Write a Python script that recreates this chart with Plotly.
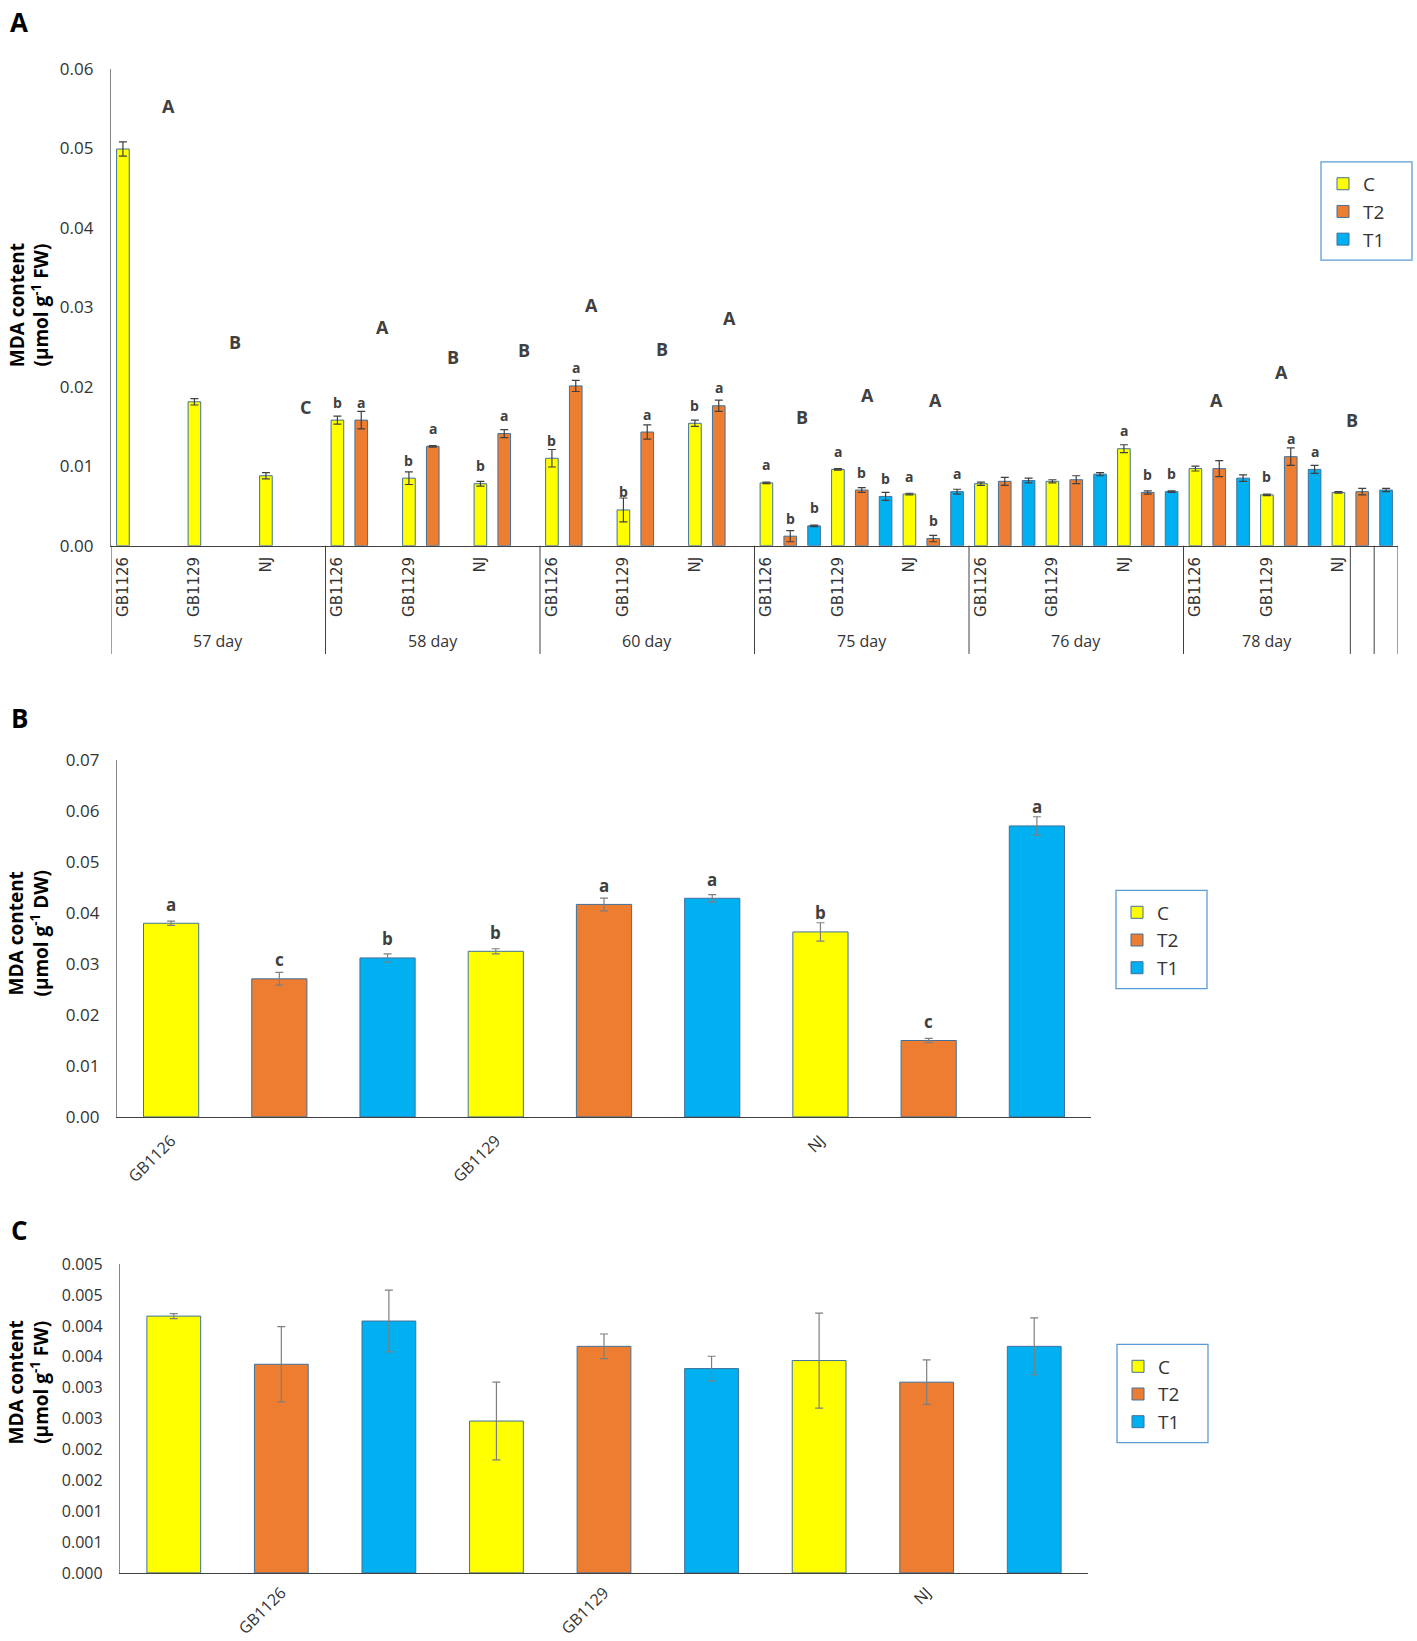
import plotly.graph_objects as go

W, H = 1417, 1641


def px(x):
    return x / W


def py(y):
    # vertical position in the photographed page, measured from the top
    return 1 - min(max(1.0164 * y - 12.64, 0), H) / H


treatments = ["C", "T2", "T1"]
colors = {"C": "#FFFF00", "T2": "#ED7D31", "T1": "#00B0F0"}
genotypes = ["GB1126", "GB1129", "NJ"]
days = ["57 day", "58 day", "60 day", "75 day", "76 day", "78 day"]

# ---- panel A : values per day, genotypes inside each day ----
a_c = [0.0499, 0.0181, 0.0088,
       0.0158, 0.0085, 0.0078,
       0.0110, 0.0045, 0.0154,
       0.0079, 0.0096, 0.0065,
       0.0078, 0.0081, 0.0122,
       0.0097, 0.0064, 0.0067]
a_c_err = [0.0009, 0.0004, 0.0004,
           0.0005, 0.0008, 0.0003,
           0.0011, 0.0015, 0.0004,
           0.0001, 0.0001, 0.0001,
           0.0002, 0.0002, 0.0005,
           0.0003, 0.0001, 0.0001]
a_c_let = ["", "", "", "b", "b", "b", "b", "b", "b",
           "a", "a", "a", "", "", "a", "", "b", ""]

a_t2 = [None, None, None,
        0.0158, 0.0125, 0.0141,
        0.0201, 0.0143, 0.0176,
        0.0012, 0.0070, 0.0009,
        0.0081, 0.0083, 0.0067,
        0.0097, 0.0112, 0.0068]
a_t2_err = [None, None, None,
            0.0011, 0.0001, 0.0005,
            0.0007, 0.0009, 0.0007,
            0.0007, 0.0003, 0.0004,
            0.0005, 0.0005, 0.0002,
            0.0010, 0.0011, 0.0004]
a_t2_let = ["", "", "", "a", "a", "a", "a", "a", "a",
            "b", "b", "b", "", "", "b", "", "a", ""]

a_t1 = [None, None, None, None, None, None, None, None, None,
        0.0025, 0.0062, 0.0068,
        0.0082, 0.0090, 0.0068,
        0.0085, 0.0096, 0.0070]
a_t1_err = [None, None, None, None, None, None, None, None, None,
            0.0001, 0.0005, 0.0003,
            0.0003, 0.0002, 0.0001,
            0.0004, 0.0005, 0.0002]
a_t1_let = ["", "", "", "", "", "", "", "", "",
            "b", "b", "a", "", "", "b", "", "a", ""]

# upper case letters of panel A (text, slot position, height)
a_grp_text = ["A", "B", "C", "A", "B", "B", "A", "B", "A",
              "B", "A", "A", "A", "A", "B"]
a_grp_x = [1.91, 4.72, 7.65, 10.9, 13.84, 16.83, 19.67, 22.63, 25.44,
           28.48, 31.24, 34.09, 45.88, 48.62, 51.58]
a_grp_y = [0.0553, 0.0256, 0.0174, 0.0275, 0.0237, 0.0246, 0.0303, 0.0248,
           0.0286, 0.0162, 0.0189, 0.0183, 0.0183, 0.0219, 0.0158]

# group boundaries on the slot axis of panel A
a_bounds = [-0.5, 8.5, 17.5, 26.5, 35.5, 44.5, 51.5, 52.5, 53.5]

# ---- panel B (DW) ----
b_c = [0.0380, 0.0325, 0.0363]
b_c_err = [0.0004, 0.0005, 0.0018]
b_c_let = ["a", "b", "b"]
b_t2 = [0.0271, 0.0417, 0.0150]
b_t2_err = [0.00125, 0.00125, 0.0004]
b_t2_let = ["c", "a", "c"]
b_t1 = [0.0312, 0.0429, 0.0571]
b_t1_err = [0.0008, 0.0007, 0.0018]
b_t1_let = ["b", "a", "a"]

# ---- panel C (FW) ----
c_c = [0.00416, 0.00246, 0.00344]
c_c_err = [0.00004, 0.00063, 0.00077]
c_t2 = [0.00338, 0.00367, 0.00309]
c_t2_err = [0.00061, 0.00020, 0.00036]
c_t1 = [0.00408, 0.00331, 0.00367]
c_t1_err = [0.00050, 0.00020, 0.00046]
c_tickvals = [0, 0.0005, 0.001, 0.0015, 0.002, 0.0025, 0.003, 0.0035,
              0.004, 0.0045, 0.005]
c_ticktext = ["0.000", "0.001", "0.001", "0.002", "0.002", "0.003", "0.003",
              "0.004", "0.004", "0.005", "0.005"]

FONT = "Open Sans"
TXT = "#333333"
OUTLINE = "#41719C"
LEGBOX = "#5B9BD5"

fig = go.Figure()
annots = []


def add_bars(xs, ys, errs, lets, name, ax, legend, width, ecol, letsize, lshift):
    keep = [i for i, v in enumerate(ys) if v is not None]
    x = [xs[i] for i in keep]
    y = [ys[i] for i in keep]
    e = [errs[i] for i in keep]
    fig.add_trace(go.Bar(
        x=x, y=y, name=name, width=width,
        marker=dict(color=colors[name], line=dict(color=OUTLINE, width=1)),
        error_y=dict(type="data", array=e, color=ecol, thickness=1.2, width=4),
        xaxis="x" + ax, yaxis="y" + ax, legend=legend,
    ))
    if lets:
        for i in keep:
            if lets[i]:
                annots.append(dict(
                    x=xs[i], y=ys[i], xref="x" + ax, yref="y" + ax,
                    xanchor="center", yanchor="middle",
                    text="<b>%s</b>" % lets[i], showarrow=False, yshift=lshift,
                    font=dict(family=FONT, size=letsize, color="#404040")))


# panel A slots: 9 per day (genotype x treatment)
a_series = {"C": (a_c, a_c_err, a_c_let), "T2": (a_t2, a_t2_err, a_t2_let),
            "T1": (a_t1, a_t1_err, a_t1_let)}
for t, name in enumerate(treatments):
    vals, errs, lets = a_series[name]
    xs = [9 * (k // 3) + 3 * (k % 3) + t for k in range(len(vals))]
    add_bars(xs, vals, errs, lets, name, "", "legend", 0.53, "#404040", 14, 18)

b_series = {"C": (b_c, b_c_err, b_c_let), "T2": (b_t2, b_t2_err, b_t2_let),
            "T1": (b_t1, b_t1_err, b_t1_let)}
c_series = {"C": (c_c, c_c_err, None), "T2": (c_t2, c_t2_err, None),
            "T1": (c_t1, c_t1_err, None)}
for t, name in enumerate(treatments):
    vals, errs, lets = b_series[name]
    xs = [3 * g + t for g in range(len(vals))]
    add_bars(xs, vals, errs, lets, name, "2", "legend2", 0.51, "#7F7F7F", 17, 19)
    vals, errs, lets = c_series[name]
    add_bars(xs, vals, errs, lets, name, "3", "legend3", 0.50, "#7F7F7F", 17, 19)

for txt, x, y in zip(a_grp_text, a_grp_x, a_grp_y):
    annots.append(dict(x=x, y=y, xref="x", yref="y", text="<b>%s</b>" % txt,
                       xanchor="center", yanchor="middle", showarrow=False,
                       font=dict(family=FONT, size=18, color="#404040")))

# day labels and dividers under panel A
for i, d in enumerate(days):
    annots.append(dict(x=(a_bounds[i] + a_bounds[i + 1]) / 2, y=py(640),
                       xref="x", yref="paper", text=d, showarrow=False,
                       xanchor="center", yanchor="middle",
                       font=dict(family=FONT, size=16, color=TXT)))
shapes = [dict(type="line", xref="x", yref="paper", x0=b, x1=b,
               y0=py(545), y1=py(653), line=dict(color="#404040", width=1))
          for b in a_bounds]

# legend frames
for x0, y0, x1, y1 in [(1321, 162, 1412, 260), (1116, 889, 1207, 987),
                       (1117, 1342, 1208, 1440)]:
    shapes.append(dict(type="rect", xref="paper", yref="paper",
                       x0=px(x0), x1=px(x1), y0=py(y1), y1=py(y0),
                       line=dict(color=LEGBOX, width=1.3)))

# panel letters and y titles
for lab, yy in [("A", 22), ("B", 717), ("C", 1228)]:
    annots.append(dict(x=px(19), y=py(yy), xref="paper", yref="paper",
                       xanchor="center", yanchor="middle",
                       text="<b>%s</b>" % lab, showarrow=False,
                       font=dict(family=FONT, size=26, color="black")))
for unit, yy in [("FW", 305), ("DW", 932), ("FW", 1380)]:
    annots.append(dict(x=px(29), y=py(yy), xref="paper", yref="paper",
                       xanchor="center", yanchor="middle",
                       text="<b>MDA content<br>(µmol g<sup>-1</sup> %s)</b>" % unit,
                       showarrow=False, textangle=-90,
                       font=dict(family=FONT, size=19, color="black")))

yax = dict(showline=True, linecolor="#868686", linewidth=1.3, showgrid=False,
           zeroline=False, ticks="", ticklabelstandoff=13,
           tickfont=dict(family=FONT, size=17, color=TXT))
xax = dict(showline=True, linecolor="#404040", linewidth=1.3, showgrid=False,
           zeroline=False, ticks="", tickmode="array")

legstyle = dict(xanchor="left", yanchor="top", borderwidth=0,
                bgcolor="rgba(0,0,0,0)", tracegroupgap=0,
                font=dict(family=FONT, size=19, color=TXT))

fig.update_layout(
    width=W, height=H, autosize=False,
    margin=dict(l=0, r=0, t=0, b=0),
    paper_bgcolor="white", plot_bgcolor="white",
    barmode="overlay",
    xaxis=dict(xax, domain=[px(111), px(1398)], range=[-0.5, 53.5],
               tickvals=[9 * d + 3 * g for d in range(6) for g in range(3)],
               ticktext=genotypes * 6, tickangle=-90, anchor="y",
               ticklabelstandoff=4,
               tickfont=dict(family="DejaVu Sans", size=15, color=TXT)),
    yaxis=dict(yax, domain=[py(545), py(69)], range=[0, 0.06], dtick=0.01,
               tickformat=".2f", anchor="x"),
    xaxis2=dict(xax, domain=[px(117), px(1091)], range=[-0.5, 8.5],
                tickvals=[0, 3, 6], ticktext=genotypes, tickangle=-45,
                anchor="y2", ticklabelstandoff=7,
                tickfont=dict(family=FONT, size=16, color=TXT)),
    yaxis2=dict(yax, domain=[py(1115), py(759)], range=[0, 0.07], dtick=0.01,
                tickformat=".2f", anchor="x2"),
    xaxis3=dict(xax, domain=[px(120), px(1088)], range=[-0.5, 8.5],
                tickvals=[1, 4, 7], ticktext=genotypes, tickangle=-45,
                anchor="y3", ticklabelstandoff=3,
                tickfont=dict(family=FONT, size=16, color=TXT)),
    yaxis3=dict(yax, domain=[py(1570), py(1262)], range=[0, 0.005],
                tickmode="array", tickvals=c_tickvals, ticktext=c_ticktext,
                anchor="x3", tickfont=dict(family=FONT, size=16, color=TXT)),
    legend=dict(legstyle, x=px(1323), y=py(165)),
    legend2=dict(legstyle, x=px(1117), y=py(892)),
    legend3=dict(legstyle, x=px(1118), y=py(1345)),
    annotations=annots,
    shapes=shapes,
)

fig.write_html("out.html", config={"displayModeBar": False},
               post_script="document.body.style.margin='0px';")
